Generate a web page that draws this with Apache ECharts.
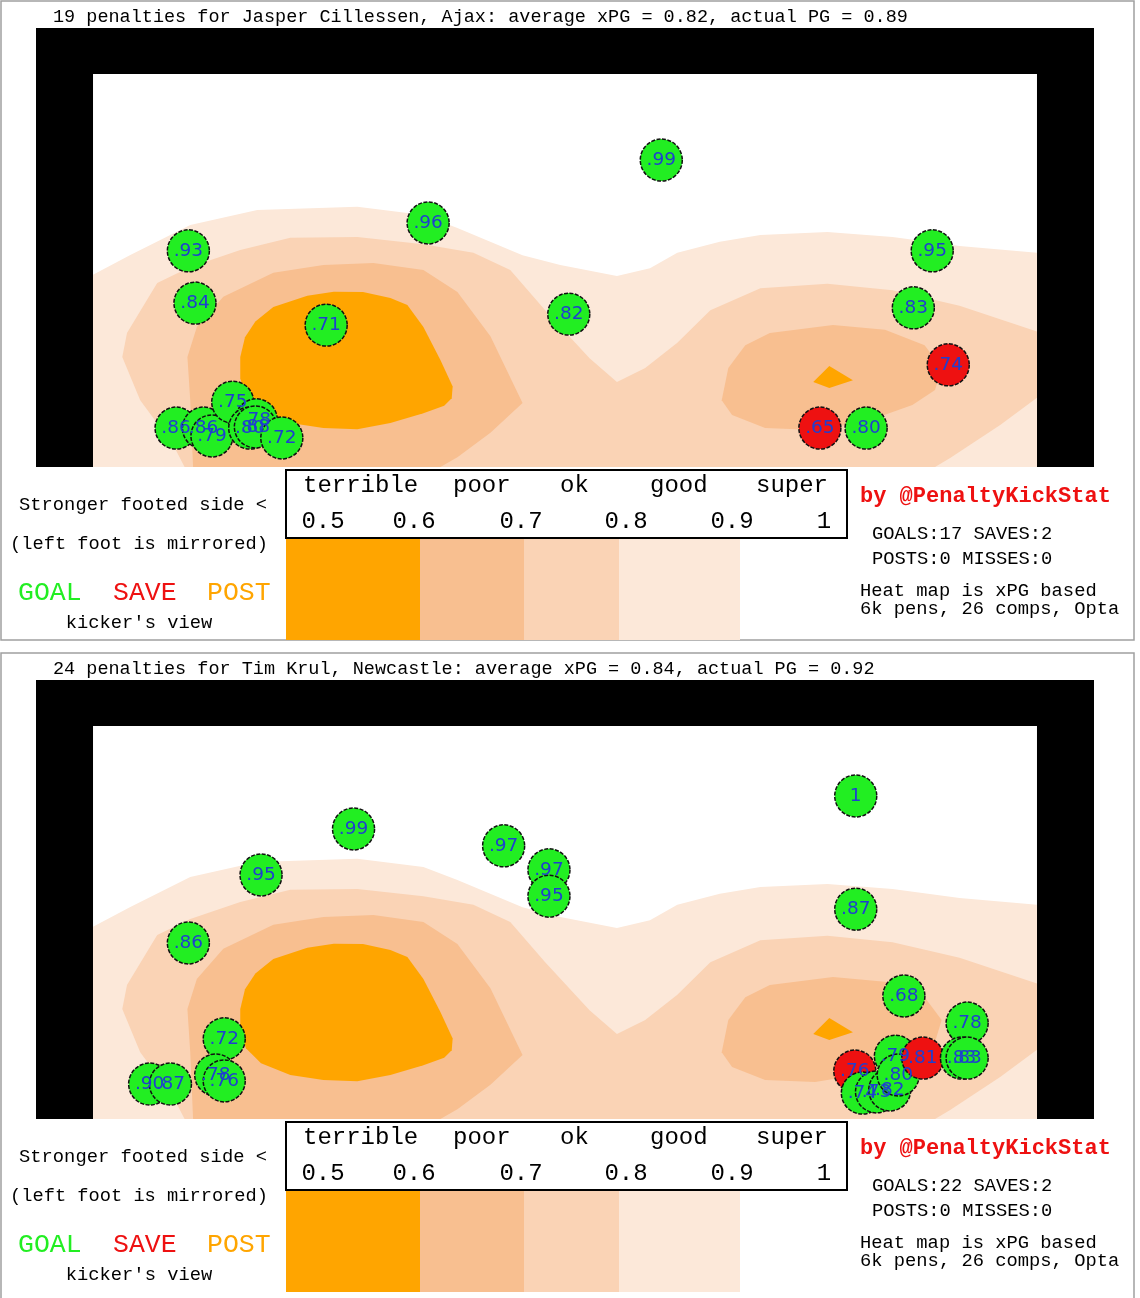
<!DOCTYPE html>
<html><head><meta charset="utf-8">
<script src="https://cdn.jsdelivr.net/npm/echarts@6/dist/echarts.min.js"></script>
<style>html,body{margin:0;padding:0;background:#fff}#c{width:1140px;height:1298px}</style>
</head><body><div id="c"></div>
<script>
// ================= DATA =================
const titles = [
  "19 penalties for Jasper Cillessen, Ajax: average xPG = 0.82, actual PG = 0.89",
  "24 penalties for Tim Krul, Newcastle: average xPG = 0.84, actual PG = 0.92"
];
const goalsSavesText = ["GOALS:17 SAVES:2", "GOALS:22 SAVES:2"];
const postsMissesText = ["POSTS:0 MISSES:0", "POSTS:0 MISSES:0"];

// goal mouth in goal units: x 0 (left post) .. 100 (right post), y 0 (ground) .. 100 (crossbar)
const goalMouth = [0, 100, 0, 100];

// penalties: [x, y, xPG, outcome]
const cillessenPens = [
  [60.2, 78.1, 0.99, 'GOAL'], [35.5, 62.1, 0.96, 'GOAL'], [10.1, 55.0, 0.93, 'GOAL'],
  [88.9, 55.0, 0.95, 'GOAL'], [10.8, 41.7, 0.84, 'GOAL'], [24.7, 36.1, 0.71, 'GOAL'],
  [50.4, 38.9, 0.82, 'GOAL'], [86.9, 40.5, 0.83, 'GOAL'], [90.6, 26.0, 0.74, 'SAVE'],
  [77.0, 9.9, 0.65, 'SAVE'], [81.9, 9.9, 0.80, 'GOAL'], [8.8, 9.9, 0.86, 'GOAL'],
  [11.7, 9.9, 0.86, 'GOAL'], [12.6, 7.9, 0.79, 'GOAL'], [14.8, 16.5, 0.75, 'GOAL'],
  [17.3, 12.0, 0.78, 'GOAL'], [16.6, 9.9, 0.80, 'GOAL'], [17.2, 10.2, 0.88, 'GOAL'],
  [20.0, 7.4, 0.72, 'GOAL']
];
const krulPens = [
  [80.8, 82.2, 1.00, 'GOAL'], [27.6, 73.8, 0.99, 'GOAL'], [43.5, 69.5, 0.97, 'GOAL'],
  [48.3, 63.4, 0.97, 'GOAL'], [48.3, 56.7, 0.95, 'GOAL'], [17.8, 62.1, 0.95, 'GOAL'],
  [80.8, 53.4, 0.87, 'GOAL'], [10.1, 44.8, 0.86, 'GOAL'], [13.9, 20.4, 0.72, 'GOAL'],
  [85.9, 31.3, 0.68, 'GOAL'], [92.6, 24.4, 0.78, 'GOAL'], [6.0, 8.9, 0.90, 'GOAL'],
  [8.2, 8.9, 0.87, 'GOAL'], [13.0, 11.2, 0.78, 'GOAL'], [13.9, 9.7, 0.76, 'GOAL'],
  [80.7, 12.2, 0.76, 'SAVE'], [81.5, 6.6, 0.74, 'GOAL'], [83.0, 6.9, 0.73, 'GOAL'],
  [84.4, 7.4, 0.82, 'GOAL'], [85.0, 16.0, 0.79, 'GOAL'], [85.3, 11.2, 0.80, 'GOAL'],
  [87.9, 15.5, 0.81, 'SAVE'], [92.0, 15.5, 0.83, 'GOAL'], [92.6, 15.5, 0.83, 'GOAL']
];

// xPG heat map contour bands (goal units), value below the level inside each polygon
const band90 = [[0,48.9],[3.9,53.9],[10.3,61.6],[17.4,65.4],[28.0,66.2],[35.0,64.1],[38.6,60.8],[45.5,53.9],[49.5,51.4],[55.5,48.6],[59.0,50.6],[61.9,54.5],[66.4,57.3],[70.7,59.0],[77.8,59.8],[84.7,58.5],[91.8,56.2],[100,54.5],[100,0],[0,0]];
const band80 = [[9.7,0],[8.5,5.6],[5.0,17.0],[3.1,28.0],[3.6,34.1],[6.8,46.8],[10.3,50.9],[15.6,55.2],[20.9,58.3],[28.0,58.5],[35.0,56.7],[40.3,54.5],[44.2,50.1],[47.9,39.9],[52.6,27.7],[55.5,21.6],[58.5,25.2],[61.9,31.6],[65.4,39.9],[70.7,45.5],[77.8,46.6],[84.7,45.0],[91.8,41.0],[100,34.5],[100,17.6],[96.1,10.7],[90.8,2.3],[89.2,0]];
const band70Left = [[10.6,0],[10.3,17.0],[10.0,28.0],[11.0,35.6],[13.8,43.3],[19.1,49.4],[24.4,51.4],[29.7,51.9],[35.0,50.1],[38.6,44.5],[42.1,33.3],[45.5,16.3],[42.1,8.7],[38.6,2.5],[36.8,0]];
const band70Right = [[66.6,17.0],[67.3,25.2],[69.1,31.0],[71.7,34.1],[78.4,36.1],[83.9,34.9],[88.1,31.0],[89.9,25.2],[89.2,19.6],[86.8,15.8],[81.8,11.5],[76.5,9.4],[71.2,9.9],[67.7,13.2]];
const band60Left = [[15.6,28.0],[16.1,33.0],[17.2,37.0],[19.1,40.7],[22.7,43.6],[25.5,44.6],[28.6,44.5],[31.5,43.0],[33.3,41.2],[35.0,35.6],[36.8,27.2],[38.1,20.5],[38.0,17.5],[37.2,15.6],[35.0,13.7],[31.5,11.2],[28.0,9.6],[24.4,9.9],[20.9,11.2],[17.8,14.2],[16.2,18.0],[15.6,22.5]];
const band60Right = [[76.3,21.6],[78.0,25.7],[80.5,22.1],[78.0,20.1]];

const legendWords = ['terrible', 'poor', 'ok', 'good', 'super'];
const legendTicks = ['0.5', '0.6', '0.7', '0.8', '0.9', '1'];
const bandColors = ['#FFA500', '#F8BF90', '#FAD3B5', '#FCE8D9']; // <0.6, 0.6-0.7, 0.7-0.8, 0.8-0.9

// ================= CHART =================
const contourBands = [
  {pts: band90, color: bandColors[3]},
  {pts: band80, color: bandColors[2]},
  {pts: band70Left, color: bandColors[1]},
  {pts: band70Right, color: bandColors[1]},
  {pts: band60Left, color: bandColors[0]},
  {pts: band60Right, color: bandColors[0]}
];
const panels = [
  {title: titles[0], pens: cillessenPens, gs: goalsSavesText[0], pm: postsMissesText[0]},
  {title: titles[1], pens: krulPens, gs: goalsSavesText[1], pm: postsMissesText[1]}
];
const MONO = "'Liberation Mono','DejaVu Sans Mono',monospace";
const GREEN = '#22EE22', RED = '#EE1111', ORANGE = '#FFA500';
const PANEL_STEP = 652;

function fmt(v) {
  if (v >= 1) return '1';
  return '.' + String(Math.round(v * 100)).padStart(2, '0');
}
function txt(x, y, text, size, color, align, weight) {
  return {type: 'text', x: x, y: y, silent: true, z: 50,
    style: {text: text, font: (weight || 'normal') + ' ' + size + 'px ' + MONO,
      fill: color || '#000', align: align || 'left', verticalAlign: 'middle'}};
}

const grids = [], xAxes = [], yAxes = [], series = [], graphics = [];
panels.forEach((p, i) => {
  const oy = i * PANEL_STEP;
  grids.push({left: 36, top: 28 + oy, width: 1058, height: 439, show: true,
    backgroundColor: '#000', borderWidth: 0});
  xAxes.push({gridIndex: i, type: 'value', min: -6.04, max: 106.04, show: false});
  yAxes.push({gridIndex: i, type: 'value', min: 0, max: 111.7, show: false});

  series.push({type: 'custom', xAxisIndex: i, yAxisIndex: i, silent: true, z: 1,
    data: [[50, 50]],
    renderItem: (params, api) => {
      const a = api.coord([goalMouth[0], goalMouth[3]]);
      const b = api.coord([goalMouth[1], goalMouth[2]]);
      return {type: 'rect', shape: {x: a[0], y: a[1], width: b[0] - a[0], height: b[1] - a[1]},
        style: {fill: '#fff'}};
    }});

  series.push({type: 'custom', xAxisIndex: i, yAxisIndex: i, silent: true, z: 2,
    data: contourBands.map(() => [50, 50]),
    renderItem: (params, api) => {
      const band = contourBands[params.dataIndex];
      return {type: 'polygon', shape: {points: band.pts.map(q => api.coord(q))},
        style: {fill: band.color}};
    }});

  series.push({type: 'scatter', xAxisIndex: i, yAxisIndex: i, z: 5,
    symbol: 'circle', symbolSize: 42,
    data: p.pens.map(d => ({value: [d[0], d[1], d[2]],
      itemStyle: {color: d[3] === 'SAVE' ? RED : GREEN}})),
    itemStyle: {borderColor: '#111', borderWidth: 1.5, borderType: [4, 1.5], opacity: 1},
    label: {show: true, position: 'inside', formatter: q => fmt(q.value[2]),
      fontFamily: "'DejaVu Sans',sans-serif", fontSize: 18.5, color: '#1F3FD0'},
    emphasis: {disabled: true}, labelLayout: {hideOverlap: false}});

  // panel frame
  graphics.push({type: 'rect', silent: true, z: 0,
    shape: {x: 1, y: 1 + oy, width: 1133, height: i === 0 ? 639 : 660},
    style: {fill: 'none', stroke: '#A0A0A0', lineWidth: 1.5}});
  graphics.push(txt(53, 17 + oy, p.title, 18.5, '#000'));

  // legend colour bars
  const barX = [286, 420, 524, 619, 740];
  for (let k = 0; k < 4; k++) {
    graphics.push({type: 'rect', silent: true, z: 10,
      shape: {x: barX[k], y: 538 + oy, width: barX[k + 1] - barX[k], height: 102},
      style: {fill: bandColors[k]}});
  }
  graphics.push({type: 'rect', silent: true, z: 11,
    shape: {x: 286, y: 470 + oy, width: 561, height: 68},
    style: {fill: '#fff', stroke: '#000', lineWidth: 2}});
  const wordX = [303, 453, 560, 650, 756];
  legendWords.forEach((w, k) => graphics.push(txt(wordX[k], 486 + oy, w, 24, '#000')));
  const tickX = [323, 414, 521, 626, 732, 824];
  legendTicks.forEach((t, k) => graphics.push(txt(tickX[k], 522 + oy, t, 24, '#000', 'center')));

  // left texts
  graphics.push(txt(143, 505 + oy, 'Stronger footed side <', 18.8, '#000', 'center'));
  graphics.push(txt(139, 544 + oy, '(left foot is mirrored)', 18.7, '#000', 'center'));
  graphics.push(txt(18, 593 + oy, 'GOAL', 26.5, GREEN));
  graphics.push(txt(113, 593 + oy, 'SAVE', 26.5, RED));
  graphics.push(txt(207, 593 + oy, 'POST', 26.5, ORANGE));
  graphics.push(txt(139, 623 + oy, "kicker's view", 18.8, '#000', 'center'));

  // right texts
  graphics.push(txt(860, 496 + oy, 'by @PenaltyKickStat', 22, RED, 'left', 'bold'));
  graphics.push(txt(872, 534 + oy, p.gs, 18.8, '#000'));
  graphics.push(txt(872, 559 + oy, p.pm, 18.8, '#000'));
  graphics.push(txt(860, 591 + oy, 'Heat map is xPG based', 18.8, '#000'));
  graphics.push(txt(860, 609 + oy, '6k pens, 26 comps, Opta', 18.8, '#000'));
});

const chart = echarts.init(document.getElementById('c'), null, {renderer: 'canvas'});
chart.setOption({
  animation: false,
  backgroundColor: '#fff',
  grid: grids, xAxis: xAxes, yAxis: yAxes,
  series: series,
  graphic: {elements: graphics}
});
</script>
</body></html>
